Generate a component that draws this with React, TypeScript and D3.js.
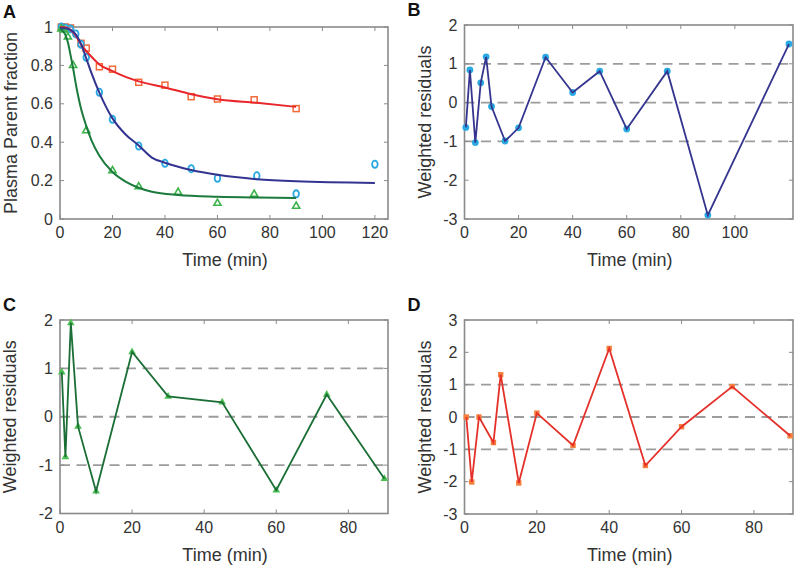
import React from 'react';
import * as d3 from 'd3';

// ---------- Panel A data (plasma parent fraction) ----------
const redTime = [0.5, 2, 4, 8, 10, 15, 20, 30, 40, 50, 60, 74, 90];
const redFrac = [1.0, 1.0, 0.995, 0.915, 0.89, 0.793, 0.78, 0.712, 0.697, 0.637, 0.625, 0.621, 0.575];
const blueTime = [0.5, 2, 4, 6, 8, 10, 15, 20, 30, 40, 50, 60, 75, 90, 120];
const blueFrac = [1.0, 0.995, 0.99, 0.964, 0.91, 0.842, 0.66, 0.519, 0.38, 0.29, 0.262, 0.212, 0.225, 0.131, 0.285];
const greenTime = [0.5, 1.5, 3, 5, 10, 20, 30, 45, 60, 74, 90];
const greenFrac = [0.99, 0.985, 0.948, 0.8, 0.46, 0.252, 0.168, 0.139, 0.082, 0.129, 0.067];

// fitted curves
const redFitTime = [0, 2, 4, 6, 8, 10, 12, 15, 20, 25, 30, 40, 50, 60, 75, 90];
const redFitFrac = [1.0, 0.997, 0.985, 0.955, 0.91, 0.875, 0.845, 0.805, 0.77, 0.74, 0.717, 0.685, 0.65, 0.624, 0.605, 0.584];
const blueFitTime = [0, 2, 4, 6, 8, 10, 12, 15, 20, 25, 30, 35, 40, 50, 60, 75, 90, 120];
const blueFitFrac = [0.995, 0.993, 0.985, 0.962, 0.912, 0.837, 0.76, 0.658, 0.524, 0.44, 0.383, 0.32, 0.293, 0.255, 0.23, 0.207, 0.196, 0.188];
const greenFitTime = [0, 1, 2, 3, 4, 5, 6, 7, 8, 10, 12, 15, 20, 25, 30, 35, 45, 60, 75, 90];
const greenFitFrac = [0.99, 0.98, 0.96, 0.92, 0.855, 0.785, 0.705, 0.635, 0.575, 0.485, 0.41, 0.33, 0.245, 0.195, 0.163, 0.142, 0.125, 0.116, 0.112, 0.11];

// ---------- Residuals ----------
const blueResid = [-0.64, 0.84, -1.03, 0.51, 1.18, -0.1, -0.99, -0.65, 1.17, 0.26, 0.81, -0.68, 0.81, -2.9, 1.51];
const greenResid = [0.92, -0.83, 1.94, -0.2, -1.54, 1.34, 0.42, 0.3, -1.52, 0.46, -1.28];
const redResid = [0.0, -2.01, 0.0, -0.79, 1.31, -2.04, 0.12, -0.88, 2.12, -1.5, -0.3, 0.94, -0.58];

// ---------- Tick labels ----------
const ticksA_x = [0, 20, 40, 60, 80, 100, 120];
const ticksA_y = [0, 0.2, 0.4, 0.6, 0.8, 1];
const ticksB_x = [0, 20, 40, 60, 80, 100];
const ticksB_y = [-3, -2, -1, 0, 1, 2];
const ticksC_x = [0, 20, 40, 60, 80];
const ticksC_y = [-2, -1, 0, 1, 2];
const ticksD_x = [0, 20, 40, 60, 80];
const ticksD_y = [-3, -2, -1, 0, 1, 2, 3];
const gridLevels = [-1, 0, 1];

const FONT = "'Liberation Sans', Arial, sans-serif";
const TXT = '#333333';
const BOX = '#8a8a8a';

type Lin = d3.ScaleLinear<number, number>;

function Frame(props: {
  x: Lin; y: Lin; xt: number[]; yt: number[]; letter: string; ylab: string;
  ylabX: number; grid?: number[];
}) {
  const { x, y, xt, yt, letter, ylab, ylabX, grid } = props;
  const [x0, x1] = x.range();
  const [y0, y1] = y.range(); // y0 bottom, y1 top
  const tl = 4;
  return (
    <g fontFamily={FONT}>
      {grid && grid.map((g) => (
        <line key={'g' + g} x1={x0} x2={x1} y1={y(g)} y2={y(g)} stroke="#9c9c9c" strokeWidth={1.8} strokeDasharray="10,6.5" />
      ))}
      {xt.map((t) => (
        <g key={'xt' + t}>
          <line x1={x(t)} x2={x(t)} y1={y0} y2={y0 - tl} stroke={BOX} strokeWidth={1} />
          <line x1={x(t)} x2={x(t)} y1={y1} y2={y1 + tl} stroke={BOX} strokeWidth={1} />
          <text x={x(t)} y={y0 + 19} textAnchor="middle" fontSize={16} fill={TXT}>{String(t)}</text>
        </g>
      ))}
      {yt.map((t) => (
        <g key={'yt' + t}>
          <line x1={x0} x2={x0 + tl} y1={y(t)} y2={y(t)} stroke={BOX} strokeWidth={1} />
          <line x1={x1} x2={x1 - tl} y1={y(t)} y2={y(t)} stroke={BOX} strokeWidth={1} />
          <text x={x0 - 7} y={y(t)} dy="0.35em" textAnchor="end" fontSize={16} fill={TXT}>{String(t)}</text>
        </g>
      ))}
      <rect x={x0} y={y1} width={x1 - x0} height={y0 - y1} fill="none" stroke={BOX} strokeWidth={1.6} />
      <text x={(x0 + x1) / 2 + 1} y={y0 + 47} textAnchor="middle" fontSize={18} fill={TXT}>Time (min)</text>
      <text transform={`translate(${ylabX},${(y0 + y1) / 2}) rotate(-90)`} textAnchor="middle" fontSize={18} fill={TXT}>{ylab}</text>
      <text x={x0 - 57} y={y1 - 9} fontSize={18} fontWeight="bold" fill="#111">{letter}</text>
    </g>
  );
}

export default function App() {
  const xA = d3.scaleLinear().domain([0, 125]).range([60, 388]);
  const yA = d3.scaleLinear().domain([0, 1]).range([219, 27]);
  const xB = d3.scaleLinear().domain([0, 121.5]).range([464.5, 793]);
  const yB = d3.scaleLinear().domain([-3, 2]).range([219, 25]);
  const xC = d3.scaleLinear().domain([0, 91]).range([60, 388]);
  const yC = d3.scaleLinear().domain([-2, 2]).range([513.5, 320]);
  const xD = d3.scaleLinear().domain([0, 90.8]).range([464.5, 793]);
  const yD = d3.scaleLinear().domain([-3, 3]).range([514, 320]);

  const fit = (xs: Lin, ys: Lin, t: number[], v: number[]) =>
    d3.line<number>().x((_, i) => xs(t[i])).y((d) => ys(d)).curve(d3.curveMonotoneX)(v) || '';
  const lin = (xs: Lin, ys: Lin, t: number[], v: number[]) =>
    d3.line<number>().x((_, i) => xs(t[i])).y((d) => ys(d))(v) || '';
  const tri = d3.symbol().type(d3.symbolTriangle);

  return (
    <svg width={794} height={568} style={{ position: 'absolute', left: 0, top: 0, background: '#fff' }}>
      <rect x={0} y={0} width={794} height={568} fill="#fff" />

      {/* Panel A */}
      <Frame x={xA} y={yA} xt={ticksA_x} yt={ticksA_y} letter="A" ylab="Plasma Parent fraction" ylabX={16.5} />
      <g fill="none">
        {redTime.map((t, i) => (
          <rect key={'rs' + i} x={xA(t) - 3} y={yA(redFrac[i]) - 3} width={6} height={6} stroke="#f26a3a" strokeWidth={1.5} />
        ))}
        {blueTime.map((t, i) => (
          <ellipse key={'bc' + i} cx={xA(t)} cy={yA(blueFrac[i])} rx={2.8} ry={3.6} stroke="#2aa8e2" strokeWidth={1.8} />
        ))}
        {greenTime.map((t, i) => (
          <path key={'gt' + i} transform={`translate(${xA(t)},${yA(greenFrac[i])})`} d={tri.size(22)() || ''} stroke="#3cb44a" strokeWidth={1.6} />
        ))}
        <path d={fit(xA, yA, redFitTime, redFitFrac)} stroke="#e8262b" strokeWidth={2} />
        <path d={fit(xA, yA, blueFitTime, blueFitFrac)} stroke="#33348f" strokeWidth={2} />
        <path d={fit(xA, yA, greenFitTime, greenFitFrac)} stroke="#1b7a3c" strokeWidth={2} />
      </g>

      {/* Panel B */}
      <Frame x={xB} y={yB} xt={ticksB_x} yt={ticksB_y} letter="B" ylab="Weighted residuals" ylabX={430.5} grid={gridLevels} />
      {blueTime.map((t, i) => (
        <circle key={'bb' + i} cx={xB(t)} cy={yB(blueResid[i])} r={3.4} fill="#2aaae2" />
      ))}
      <path d={lin(xB, yB, blueTime, blueResid)} fill="none" stroke="#35358f" strokeWidth={1.8} />

      {/* Panel C */}
      <Frame x={xC} y={yC} xt={ticksC_x} yt={ticksC_y} letter="C" ylab="Weighted residuals" ylabX={15.5} grid={gridLevels} />
      {greenTime.map((t, i) => (
        <path key={'cg' + i} transform={`translate(${xC(t)},${yC(greenResid[i])})`} d={tri.size(26)() || ''} fill="#4cbf55" />
      ))}
      <path d={lin(xC, yC, greenTime, greenResid)} fill="none" stroke="#1b6e35" strokeWidth={1.8} />

      {/* Panel D */}
      <Frame x={xD} y={yD} xt={ticksD_x} yt={ticksD_y} letter="D" ylab="Weighted residuals" ylabX={430.5} grid={gridLevels} />
      {redTime.map((t, i) => (
        <rect key={'dr' + i} x={xD(t) - 2.7} y={yD(redResid[i]) - 2.7} width={5.4} height={5.4} fill="#f5803f" />
      ))}
      <path d={lin(xD, yD, redTime, redResid)} fill="none" stroke="#e5302a" strokeWidth={1.8} />
    </svg>
  );
}
